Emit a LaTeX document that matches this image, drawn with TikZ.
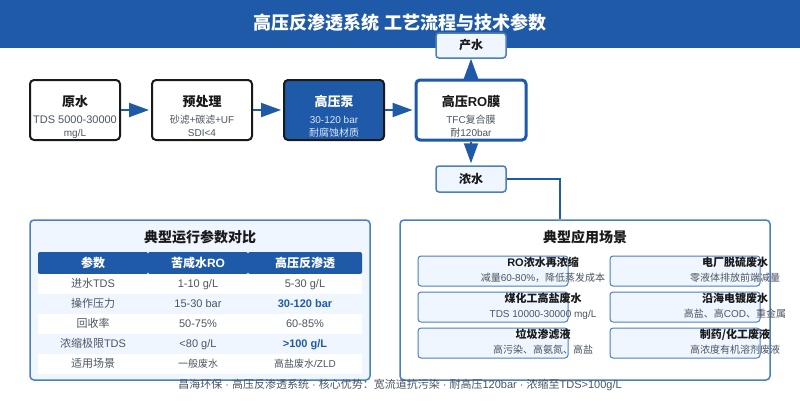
\documentclass[tikz,border=0pt]{standalone}
\usepackage{fontspec}
\setmainfont{Liberation Sans}
\newfontfamily\zhf{Noto Sans CJK SC}
\newcommand{\Z}[1]{{\zhf #1}}
\definecolor{hdr}{HTML}{1F5AA8}
\definecolor{edge}{HTML}{4A7FC1}
\definecolor{pale}{HTML}{F0F6FF}
\definecolor{ink}{HTML}{1A1A1A}
\definecolor{sub}{HTML}{4B5563}
\newcommand{\fs}[1]{\fontsize{#1}{#1}\selectfont}
\tikzset{
  x=1pt,y=-1pt,
  box/.style={draw=ink,line width=2pt,rounded corners=4pt,fill=white,inner sep=0},
  endbox/.style={draw=edge,line width=1.5pt,rounded corners=3pt,fill=pale,inner sep=0},
  panel/.style={draw=edge,line width=1.5pt,rounded corners=4pt,inner sep=0},
  card/.style={draw=edge,line width=1pt,rounded corners=3pt,fill=pale,inner sep=0},
  bigarrow/.style={draw=hdr,line width=2pt,-{Triangle[length=20pt,width=14pt,fill=hdr]},shorten >=2pt},
  link/.style={draw=hdr,line width=1.5pt},
  t/.style={inner sep=0,anchor=center,text height=.9em,text depth=0pt},
  ttl/.style={t,text=ink,font=\fs{13}\bfseries},
  subt/.style={t,text=sub,font=\fs{10}},
  cell/.style={t,text=sub,font=\fs{11}},
  cellsm/.style={t,text=sub,font=\fs{10}},
  cellb/.style={t,text=hdr,font=\fs{11}\bfseries},
  th/.style={t,text=white,font=\fs{12}\bfseries},
  cardt/.style={t,text=ink,font=\fs{11}\bfseries},
  cards/.style={t,text=sub,font=\fs{10}},
}
\usetikzlibrary{arrows.meta}
\begin{document}
\begin{tikzpicture}
\useasboundingbox (0,0) rectangle (800,400);
\fill[white] (0,0) rectangle (800,400);
\fill[hdr] (0,0) rectangle (800,48);
\node[t,text=white,font=\fs{18}\bfseries] (title) at (400,25) {\Z{高压反渗透系统 工艺流程与技术参数}};

% process boxes
\node[box,minimum width=90pt,minimum height=60pt] (raw) at (75,110) {};
\node[box,minimum width=100pt,minimum height=60pt] (pre) at (202,110) {};
\node[box,fill=hdr,minimum width=100pt,minimum height=60pt] (pump) at (334,110) {};
\node[box,draw=hdr,line width=3pt,minimum width=110pt,minimum height=60pt] (ro) at (471,110) {};
\node[endbox,minimum width=70pt,minimum height=25pt] (prod) at (471,45.5) {};
\node[endbox,minimum width=70pt,minimum height=26pt] (conc) at (471,179) {};

\node[ttl] (rawt) at (75,102) {\Z{原水}};
\node[t,text=sub,font=\fs{11}] (raws) at (75,119) {TDS 5000-30000};
\node[t,text=sub,font=\fs{10}] (raws2) at (75,132) {mg/L};
\node[ttl] (pret) at (202,102) {\Z{预处理}};
\node[subt] (pres) at (202,119) {\Z{砂滤+碳滤+}UF};
\node[subt] (pres2) at (202,132) {SDI<4};
\node[ttl,text=white] (pumpt) at (334,102) {\Z{高压泵}};
\node[subt,text=white!85!hdr] (pumps) at (334,119) {30-120 bar};
\node[subt,text=white!85!hdr] (pumps2) at (334,132) {\Z{耐腐蚀材质}};
\node[ttl] (rot) at (471,102) {\Z{高压}RO\Z{膜}};
\node[subt] (ros) at (471,119) {TFC\Z{复合膜}};
\node[subt] (ros2) at (471,132) {\Z{耐}120bar};
\node[t,text=ink,font=\fs{12}\bfseries] (prodt) at (471,45) {\Z{产水}};
\node[t,text=ink,font=\fs{12}\bfseries] (conct) at (471,179) {\Z{浓水}};

% arrows
\draw[bigarrow] (raw) -- (pre);
\draw[bigarrow] (pre) -- (pump);
\draw[bigarrow] (pump) -- (ro);
\draw[bigarrow,shorten >=0pt] (ro) -- (prod);
\draw[bigarrow] (ro) -- (conc);

% left panel
\node[panel,fill=pale,minimum width=340pt,minimum height=160pt] (lp) at (200,300) {};
\node[t,text=ink,font=\fs{14}\bfseries] (lpt) at (200,238) {\Z{典型运行参数对比}};
\fill[hdr,rounded corners=2pt] (38,252) rectangle (148,274);
\fill[hdr,rounded corners=2pt] (148,252) rectangle (248,274);
\fill[hdr,rounded corners=2pt] (248,252) rectangle (362,274);
\fill[white] (38,274) rectangle (362,294);
\fill[white] (38,314) rectangle (362,334);
\fill[white] (38,354) rectangle (362,374);
\node[th] (h1) at (93,263) {\Z{参数}};
\node[th] (h2) at (198,263) {\Z{苦咸水}RO};
\node[th] (h3) at (305,263) {\Z{高压反渗透}};
\node[cell] (a1) at (93,283) {\Z{进水}TDS};
\node[cell] (a2) at (198,283) {1-10 g/L};
\node[cell] (a3) at (305,283) {5-30 g/L};
\node[cell] (b1) at (93,303) {\Z{操作压力}};
\node[cell] (b2) at (198,303) {15-30 bar};
\node[cellb] (b3) at (305,303) {30-120 bar};
\node[cell] (c1) at (93,323) {\Z{回收率}};
\node[cell] (c2) at (198,323) {50-75\%};
\node[cell] (c3) at (305,323) {60-85\%};
\node[cell] (d1) at (93,343) {\Z{浓缩极限}TDS};
\node[cell] (d2) at (198,343) {<80 g/L};
\node[cellb] (d3) at (305,343) {>100 g/L};
\node[cell] (e1) at (93,363) {\Z{适用场景}};
\node[cellsm] (e2) at (198,363) {\Z{一般废水}};
\node[cellsm] (e3) at (305,363) {\Z{高盐废水}/ZLD};

% right panel
\node[panel,fill=white,minimum width=370pt,minimum height=160pt] (rp) at (585,300) {};
\node[t,text=ink,font=\fs{14}\bfseries] (rpt) at (585,238) {\Z{典型应用场景}};
\draw[link] (conc.east) -- (560,179) -- (rp.north -| 560,0);

\node[card,minimum width=150pt,minimum height=30pt] (c11) at (493,271) {};
\node[card,minimum width=150pt,minimum height=30pt] (c21) at (493,307) {};
\node[card,minimum width=150pt,minimum height=30pt] (c31) at (493,343) {};
\node[card,minimum width=150pt,minimum height=30pt] (c12) at (685,271) {};
\node[card,minimum width=150pt,minimum height=30pt] (c22) at (685,307) {};
\node[card,minimum width=150pt,minimum height=30pt] (c32) at (685,343) {};

\node[cardt] (t11) at (543,262) {RO\Z{浓水再浓缩}};
\node[cards] (s11) at (543,277) {\Z{减量}60-80\%\Z{，降低蒸发成本}};
\node[cardt] (t21) at (543,298) {\Z{煤化工高盐废水}};
\node[cards] (s21) at (543,313) {TDS 10000-30000 mg/L};
\node[cardt] (t31) at (543,334) {\Z{垃圾渗滤液}};
\node[cards] (s31) at (543,349) {\Z{高污染、高氨氮、高盐}};
\node[cardt] (t12) at (735,262) {\Z{电厂脱硫废水}};
\node[cards] (s12) at (735,277) {\Z{零液体排放前端减量}};
\node[cardt] (t22) at (735,298) {\Z{沿海电镀废水}};
\node[cards] (s22) at (735,313) {\Z{高盐、高}COD\Z{、重金属}};
\node[cardt] (t32) at (735,334) {\Z{制药/化工废液}};
\node[cards] (s32) at (735,349) {\Z{高浓度有机溶剂废液}};

\node[t,text=sub,font=\fs{11}] (foot) at (400,384) {\Z{昌海环保} · \Z{高压反渗透系统} · \Z{核心优势：宽流道抗污染} · \Z{耐高压}120bar · \Z{浓缩至}TDS>100g/L};
\end{tikzpicture}
\end{document}
